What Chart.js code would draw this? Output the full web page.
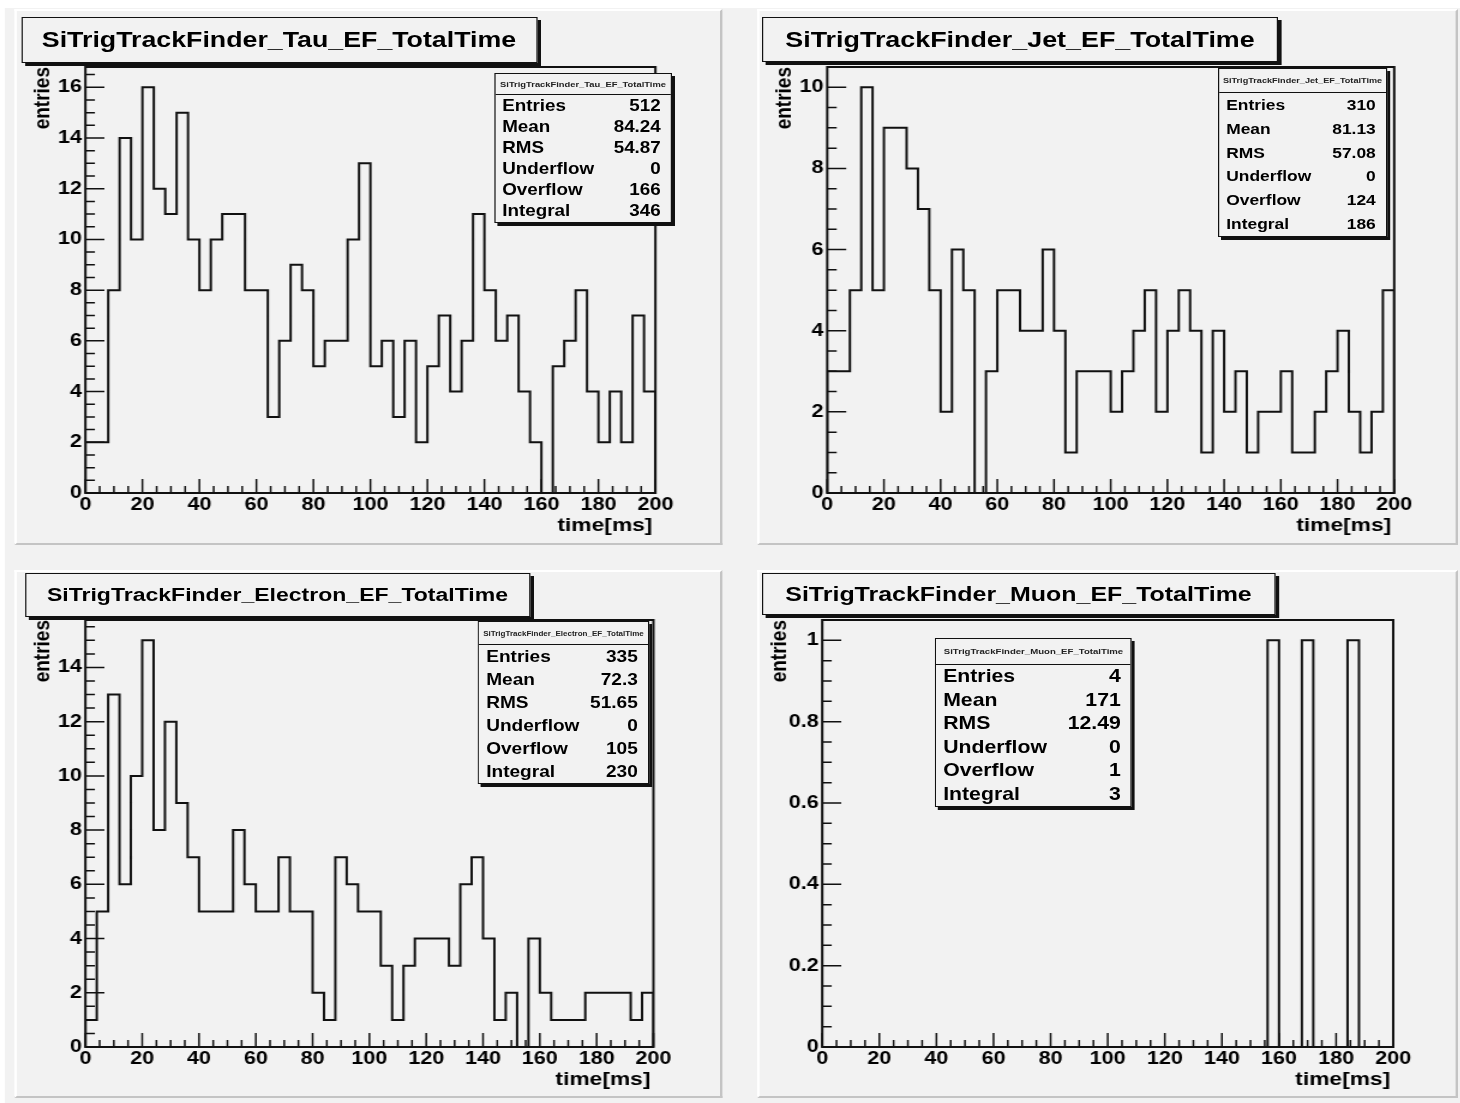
<!DOCTYPE html>
<html>
<head>
<meta charset="utf-8">
<title>SiTrigTrackFinder EF TotalTime</title>
<script src="https://cdn.jsdelivr.net/npm/chart.js@4.4.1/dist/chart.umd.min.js"></script>
<style>
  html, body { margin: 0; padding: 0; background: #fff; }
  body { width: 1460px; height: 1103px; overflow: hidden; position: relative; }
  #stage { position: absolute; left: 0; top: 0; height: 1103px; transform-origin: 0 0; }
  #sheet { position: absolute; background: #f2f2f2; }
  .pad { position: absolute; box-sizing: border-box; background: #f2f2f2;
         border-top: 2px solid #fff; border-left: 2px solid #fff;
         border-right: 2px solid #c4c4c4; border-bottom: 2px solid #c4c4c4; }
  canvas { position: absolute; }
  .titlebox { position: absolute; box-sizing: border-box; background: #f2f2f2;
              border: 1.5px solid #111; box-shadow: 3px 3px 0 #111;
              display: flex; align-items: center; justify-content: center;
              font-family: "Liberation Sans", Arial, Helvetica, sans-serif; font-weight: bold; color: #000;
              white-space: nowrap; }
  .statbox { position: absolute; box-sizing: border-box; background: #f2f2f2;
             border: 1.5px solid #111; box-shadow: 2.5px 3px 0 #111;
             display: flex; flex-direction: column;
             font-family: "Liberation Sans", Arial, Helvetica, sans-serif; font-weight: bold; color: #000; }
  .statbox .head { border-bottom: 1.5px solid #111; display: flex; color: #222;
                   align-items: center; justify-content: center; white-space: nowrap; overflow: hidden; }
  .statbox .row { flex: 1; display: flex; align-items: center; justify-content: space-between; }
</style>
</head>
<body>
<div id="stage"><div id="sheet"></div></div>
<script>
// histogram binning: 50 bins of 4 ms between 0 and 200 ms
const binLow = [0, 4, 8, 12, 16, 20, 24, 28, 32, 36, 40, 44, 48, 52, 56, 60, 64, 68, 72, 76,
                80, 84, 88, 92, 96, 100, 104, 108, 112, 116, 120, 124, 128, 132, 136, 140, 144, 148, 152, 156,
                160, 164, 168, 172, 176, 180, 184, 188, 192, 196];
const xMax = 200;

const tauCounts = [2, 2, 8, 14, 10, 16, 12, 11, 15, 10, 8, 10, 11, 11, 8, 8, 3, 6, 9, 8,
                   5, 6, 6, 10, 13, 5, 6, 3, 6, 2, 5, 7, 4, 6, 11, 8, 6, 7, 4, 2,
                   0, 5, 6, 8, 4, 2, 4, 2, 7, 4];
const jetCounts = [3, 3, 5, 10, 5, 9, 9, 8, 7, 5, 2, 6, 5, 0, 3, 5, 5, 4, 4, 6,
                   4, 1, 3, 3, 3, 2, 3, 4, 5, 2, 4, 5, 4, 1, 4, 2, 3, 1, 2, 2,
                   3, 1, 1, 2, 3, 4, 2, 1, 2, 5];
const electronCounts = [1, 5, 13, 6, 10, 15, 8, 12, 9, 7, 5, 5, 5, 8, 6, 5, 5, 7, 5, 5,
                        2, 1, 7, 6, 5, 5, 3, 1, 3, 4, 4, 4, 3, 6, 7, 4, 1, 2, 0, 4,
                        2, 1, 1, 1, 2, 2, 2, 2, 1, 2];
const muonCounts = [0, 0, 0, 0, 0, 0, 0, 0, 0, 0, 0, 0, 0, 0, 0, 0, 0, 0, 0, 0,
                    0, 0, 0, 0, 0, 0, 0, 0, 0, 0, 0, 0, 0, 0, 0, 0, 0, 0, 0, 1,
                    0, 0, 1, 0, 0, 0, 1, 0, 0, 0];

// stat box contents
const statNames = ['Entries', 'Mean', 'RMS', 'Underflow', 'Overflow', 'Integral'];
const tauStats = ['512', '84.24', '54.87', '0', '166', '346'];
const jetStats = ['310', '81.13', '57.08', '0', '124', '186'];
const electronStats = ['335', '72.3', '51.65', '0', '105', '230'];
const muonStats = ['4', '171', '12.49', '0', '1', '3'];

const S = 1.2;   // the sheet is drawn narrow and stretched sideways
const FONT = '"Liberation Sans", Arial, Helvetica, sans-serif';

// boxes are [x0, y0, x1, y1] in screen pixels
const panels = [
  { name: 'SiTrigTrackFinder_Tau_EF_TotalTime', counts: tauCounts, stats: tauStats,
    yMax: 16.8, yStep: 2, yMinor: 0.5,
    pad: [14, 9, 723, 545], frame: [85, 67, 655, 493],
    titleBox: [21, 17, 537, 63], titleSize: 22.3,
    statBox: [494, 73, 672, 223], statHead: 20, statHeadSize: 7.8, statSize: 15.7 },
  { name: 'SiTrigTrackFinder_Jet_EF_TotalTime', counts: jetCounts, stats: jetStats,
    yMax: 10.5, yStep: 2, yMinor: 0.5,
    pad: [757, 9, 1458, 545], frame: [827, 67, 1394, 493],
    titleBox: [762, 17, 1278, 62], titleSize: 22.4,
    statBox: [1218, 68, 1387, 237], statHead: 23, statHeadSize: 7.6, statSize: 14.5 },
  { name: 'SiTrigTrackFinder_Electron_EF_TotalTime', counts: electronCounts, stats: electronStats,
    yMax: 15.75, yStep: 2, yMinor: 0.5,
    pad: [14, 570, 723, 1098], frame: [85, 620, 653, 1047],
    titleBox: [25, 573, 530, 617], titleSize: 19.2,
    statBox: [478, 621, 649, 784], statHead: 22, statHeadSize: 6.7, statSize: 15.9 },
  { name: 'SiTrigTrackFinder_Muon_EF_TotalTime', counts: muonCounts, stats: muonStats,
    yMax: 1.05, yStep: 0.2, yMinor: 0.05,
    pad: [757, 570, 1458, 1098], frame: [822, 620, 1393, 1047],
    titleBox: [762, 573, 1275, 615], titleSize: 20.8,
    statBox: [935, 638, 1132, 807], statHead: 25, statHeadSize: 8, statSize: 17.7 }
];

const stage = document.getElementById('stage');
stage.style.width = (1460 / S) + 'px';
stage.style.transform = 'scaleX(' + S + ')';

function place(el, box) {
  el.style.left = (box[0] / S) + 'px';
  el.style.top = box[1] + 'px';
  el.style.width = ((box[2] - box[0]) / S) + 'px';
  el.style.height = (box[3] - box[1]) + 'px';
}

place(document.getElementById('sheet'), [5, 8, 1460, 1103]);

// outline of a histogram: left edges stepped, closed down to zero at both ends
function histPoints(counts) {
  const pts = [{ x: binLow[0], y: 0 }];
  counts.forEach((c, i) => pts.push({ x: binLow[i], y: c }));
  const last = counts[counts.length - 1];
  pts.push({ x: xMax, y: last }, { x: xMax, y: 0 });
  return pts;
}

// ROOT style frame: ticks pointing inwards, boxed frame, axis titles
const rootAxes = {
  id: 'rootAxes',
  afterDraw(chart, args, opts) {
    const { ctx, chartArea: a } = chart;
    const xs = chart.scales.x, ys = chart.scales.y;
    ctx.save();
    ctx.strokeStyle = '#111';
    ctx.lineWidth = 1.5;
    ctx.beginPath();
    const nY = Math.floor(ys.max / opts.yMinor + 1e-6);
    const perY = Math.round(opts.yStep / opts.yMinor);
    for (let i = 0; i <= nY; i++) {
      const py = ys.getPixelForValue(i * opts.yMinor);
      const len = (i % perY === 0 ? 19 : 9.5) / S;
      ctx.moveTo(a.left, py);
      ctx.lineTo(a.left + len, py);
    }
    for (let i = 0; i <= 40; i++) {
      const px = xs.getPixelForValue(i * 5);
      const len = i % 4 === 0 ? 14 : 7;
      ctx.moveTo(px, a.bottom);
      ctx.lineTo(px, a.bottom - len);
    }
    ctx.stroke();

    ctx.lineWidth = 2;
    ctx.strokeRect(a.left, a.top, a.right - a.left, a.bottom - a.top);

    ctx.fillStyle = '#000';
    ctx.font = 'bold 19px ' + FONT;
    ctx.textBaseline = 'middle';
    ctx.textAlign = 'right';
    ctx.fillText('time[ms]', a.right - 3 / S, a.bottom + 33);

    ctx.translate(a.left - 43 / S, a.top);
    ctx.rotate(-Math.PI / 2);
    ctx.textAlign = 'right';
    ctx.fillText('entries', 0, 0);
    ctx.restore();
  }
};

Chart.defaults.font.family = FONT;
Chart.defaults.color = '#000';

// plain numbers on the value axis: 0, 0.2, ..., 1
function plainLabel(value) {
  return String(Number(value.toFixed(3)));
}

panels.forEach(function (p) {
  const padEl = document.createElement('div');
  padEl.className = 'pad';
  place(padEl, p.pad);
  stage.appendChild(padEl);

  const canvas = document.createElement('canvas');
  const cw = Math.round((p.pad[2] - p.pad[0]) / S);
  const ch = p.pad[3] - p.pad[1];
  canvas.width = cw;
  canvas.height = ch;
  canvas.style.left = (p.pad[0] / S) + 'px';
  canvas.style.top = p.pad[1] + 'px';
  canvas.style.width = cw + 'px';
  canvas.style.height = ch + 'px';
  stage.appendChild(canvas);

  const yAxisWidth = (p.frame[0] - p.pad[0]) / S;
  const xAxisHeight = p.pad[3] - p.frame[3];
  const tickFont = { family: FONT, size: 18, weight: 'bold' };

  new Chart(canvas.getContext('2d'), {
    type: 'line',
    data: {
      datasets: [{
        data: histPoints(p.counts),
        stepped: 'before',
        borderColor: '#111',
        borderWidth: 2,
        pointRadius: 0,
        fill: false
      }]
    },
    options: {
      responsive: false,
      animation: false,
      events: [],
      layout: {
        padding: { left: 0, top: p.frame[1] - p.pad[1], right: cw - (p.frame[2] - p.pad[0]) / S, bottom: 0 }
      },
      plugins: {
        legend: { display: false },
        tooltip: { enabled: false },
        rootAxes: { yStep: p.yStep, yMinor: p.yMinor }
      },
      scales: {
        x: {
          type: 'linear',
          min: 0,
          max: xMax,
          grid: { display: false, drawTicks: false },
          border: { display: false },
          ticks: { stepSize: 20, autoSkip: false, maxRotation: 0, includeBounds: false,
                   padding: 1, font: tickFont, color: '#000' },
          afterFit: function (scale) { scale.height = xAxisHeight; }
        },
        y: {
          type: 'linear',
          min: 0,
          max: p.yMax,
          grid: { display: false, drawTicks: false },
          border: { display: false },
          ticks: { stepSize: p.yStep, includeBounds: false, padding: 3, font: tickFont, color: '#000',
                   callback: plainLabel },
          afterFit: function (scale) { scale.width = yAxisWidth; }
        }
      }
    },
    plugins: [rootAxes]
  });

  const title = document.createElement('div');
  title.className = 'titlebox';
  place(title, p.titleBox);
  title.style.fontSize = p.titleSize + 'px';
  title.textContent = p.name;
  stage.appendChild(title);

  const stat = document.createElement('div');
  stat.className = 'statbox';
  place(stat, p.statBox);
  stat.style.fontSize = p.statSize + 'px';
  const head = document.createElement('div');
  head.className = 'head';
  head.style.height = p.statHead + 'px';
  head.style.flex = '0 0 ' + p.statHead + 'px';
  head.style.fontSize = p.statHeadSize + 'px';
  head.textContent = p.name;
  stat.appendChild(head);
  statNames.forEach(function (label, i) {
    const row = document.createElement('div');
    row.className = 'row';
    row.style.padding = '0 ' + (10 / S) + 'px 0 ' + (7 / S) + 'px';
    const l = document.createElement('span');
    l.textContent = label;
    const v = document.createElement('span');
    v.textContent = p.stats[i];
    row.appendChild(l);
    row.appendChild(v);
    stat.appendChild(row);
  });
  stage.appendChild(stat);
});
</script>
</body>
</html>
